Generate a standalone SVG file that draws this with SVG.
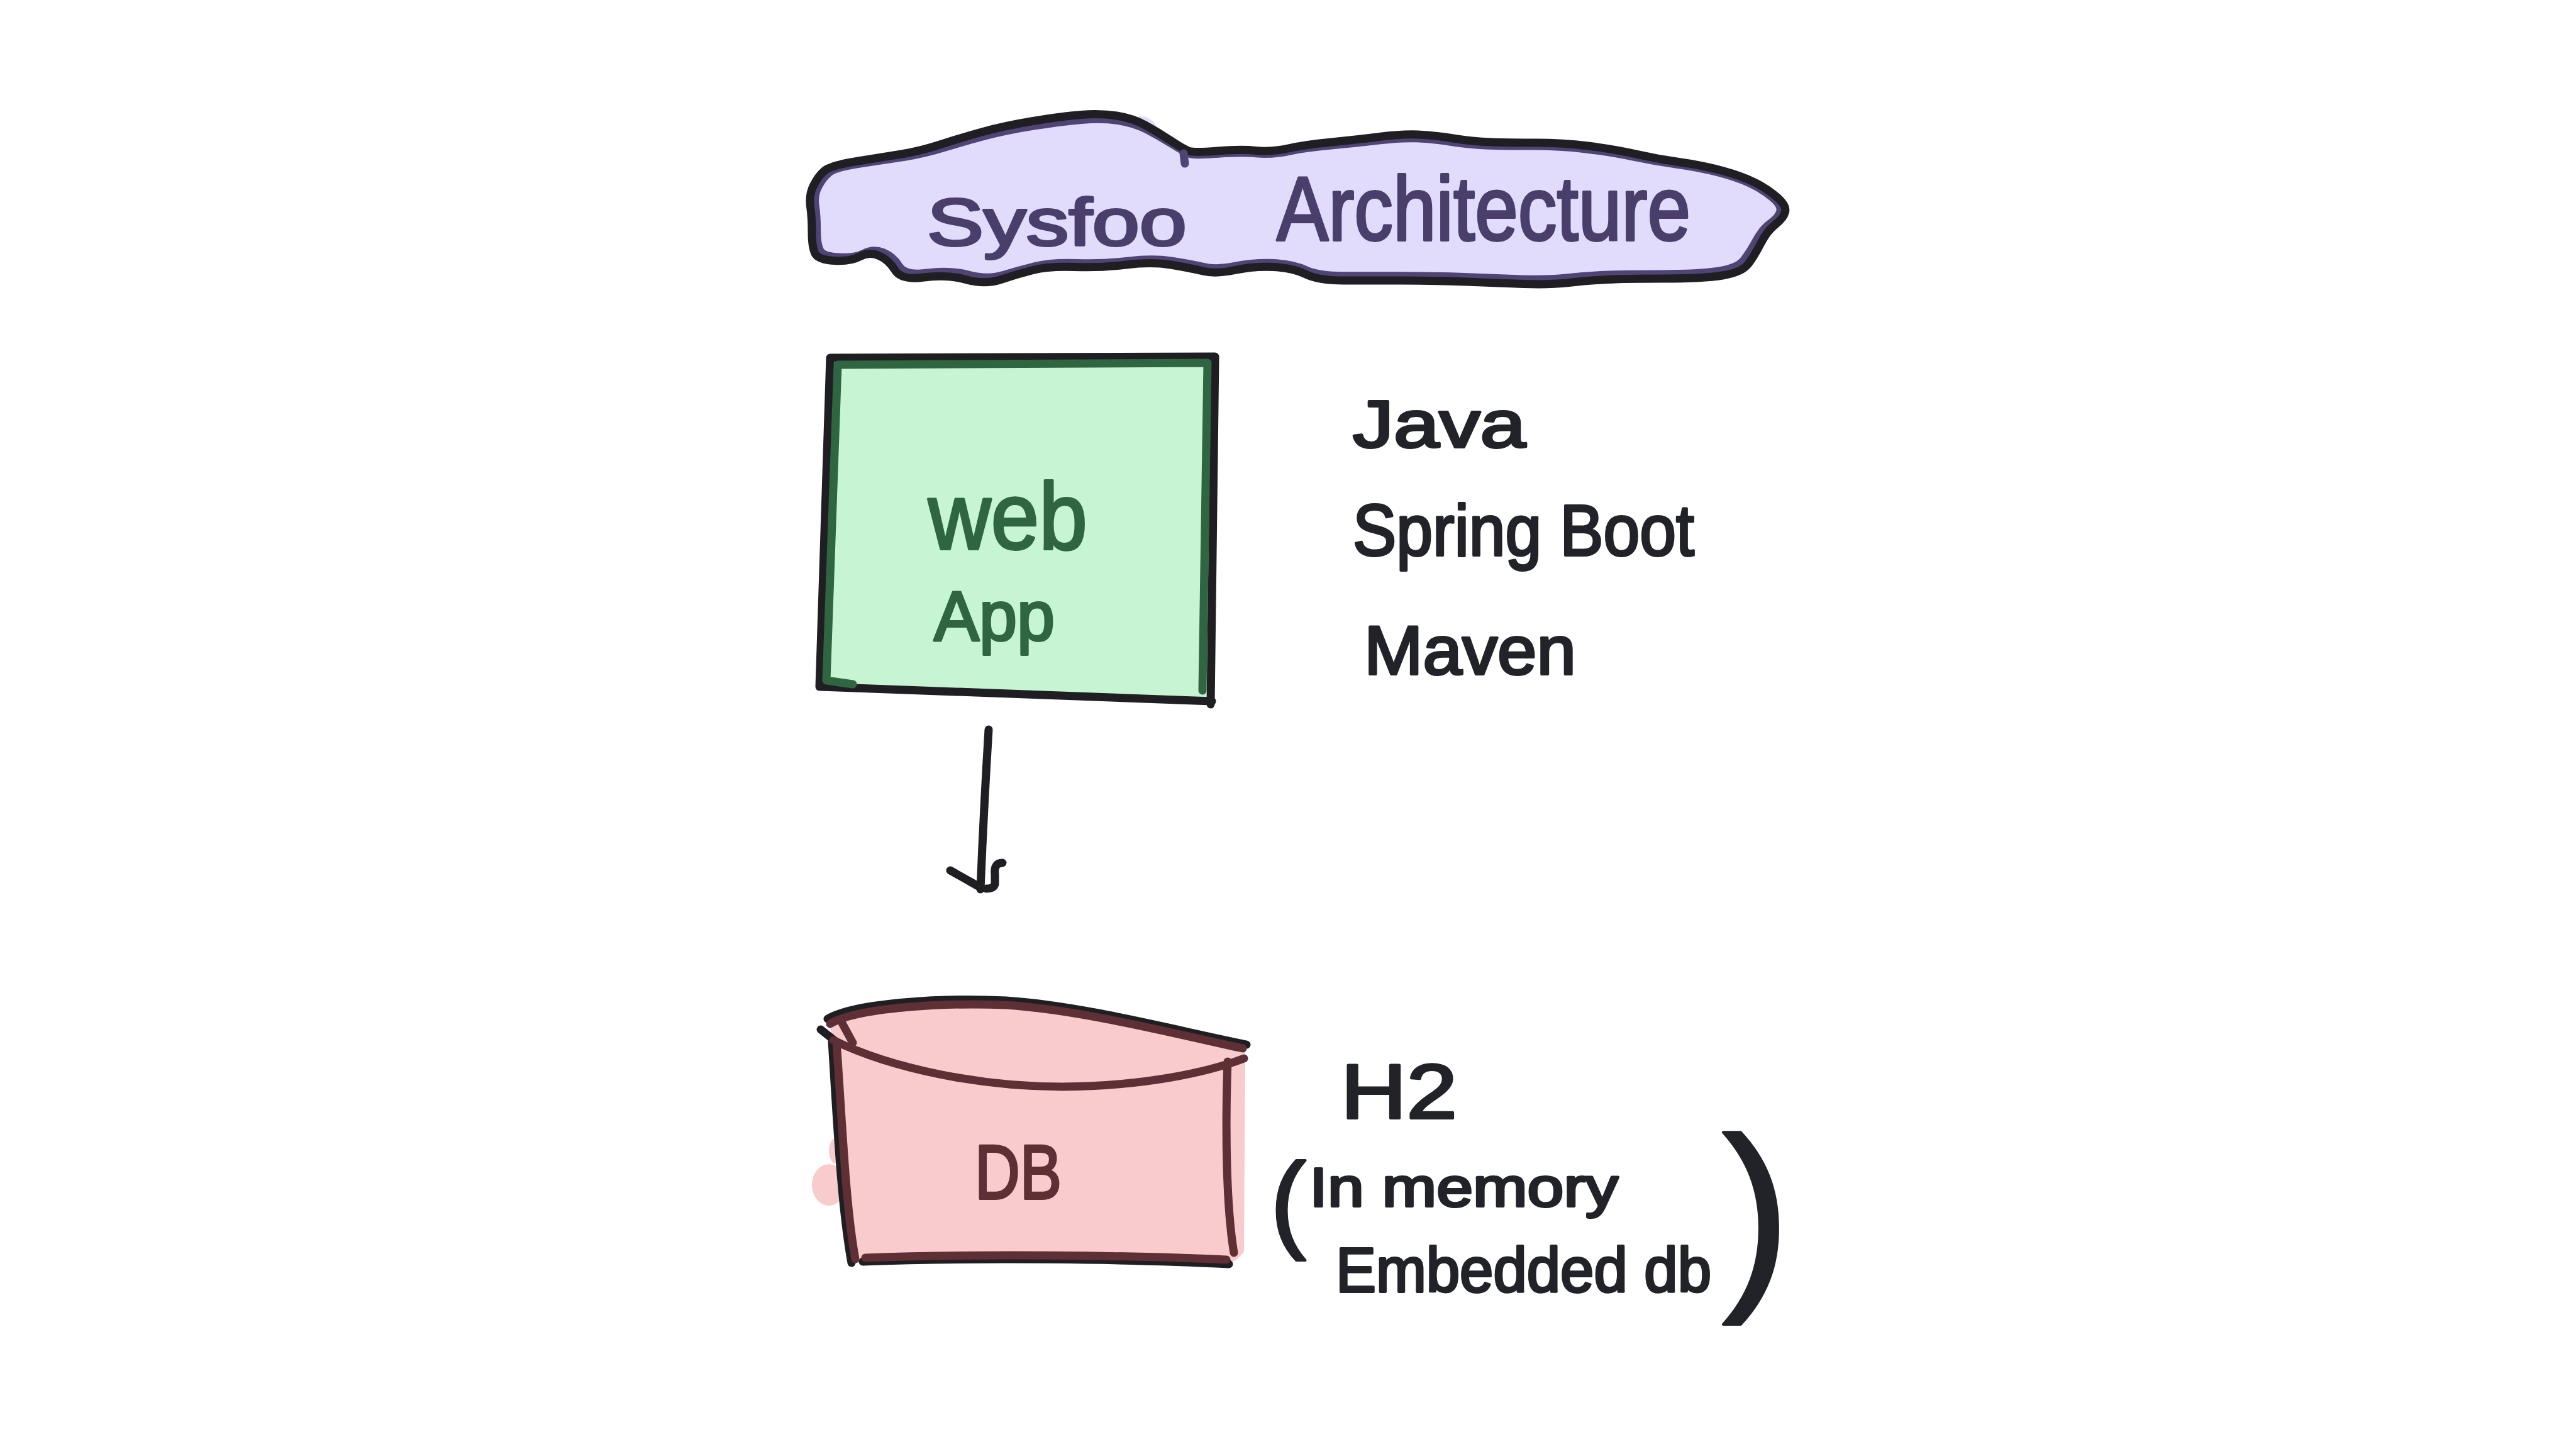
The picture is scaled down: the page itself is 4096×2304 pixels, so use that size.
<svg xmlns="http://www.w3.org/2000/svg" width="4096" height="2304" viewBox="0 0 4096 2304">
<style>
.hand{font-family:"Liberation Sans","DejaVu Sans",Arial,sans-serif;stroke-width:4;stroke-linejoin:round}
.ink{fill:#222328;stroke:#222328}
.purple{fill:#4a3f6b;stroke:#4a3f6b}
.green{fill:#2f6540;stroke:#2f6540}
.maroon{fill:#5e2f34;stroke:#5e2f34}
.ln{fill:none;stroke-width:13;stroke-linecap:round;stroke-linejoin:round}
.k{stroke:#1f1f23}
.g{stroke:#2f6540}
.m{stroke:#5e2f34}
.p{stroke:#4f4474}
</style>
<defs>
<path id="cloud" d="M1311,271.5 Q1321,263 1362,256.5 Q1403,250 1433.5,245 Q1464,240 1494.5,230 Q1525,220 1561,210 Q1597,200 1642.5,192.5 Q1688,185 1719,182.5 Q1750,180 1775.5,184 Q1801,188 1821,199 Q1841,210 1861.5,223.5 Q1882,237 1890,240 Q1898,243 1936,240 Q1974,237 1997,239.5 Q2020,242 2048,236 Q2076,230 2117,226 Q2158,222 2193.5,217.5 Q2229,213 2254.5,214 Q2280,215 2310.5,220 Q2341,225 2371.5,226 Q2402,227 2443,227 Q2484,227 2525,232 Q2566,237 2601.5,245 Q2637,253 2672.5,258 Q2708,263 2739,271.5 Q2770,280 2790,290 Q2810,300 2825.5,313.5 Q2841,327 2838.5,337 Q2836,347 2823,357 Q2810,367 2800,386.5 Q2790,406 2780,419.5 Q2770,433 2739,438 Q2708,443 2647,443 Q2586,443 2555.5,444.5 Q2525,446 2494.5,449.5 Q2464,453 2423,451.5 Q2382,450 2331,448 Q2280,446 2229,446 Q2178,446 2137,446 Q2096,446 2076,436 Q2056,426 2025,424.5 Q1994,423 1963.5,429.5 Q1933,436 1912.5,431 Q1892,426 1861.5,421 Q1831,416 1790.5,421 Q1750,426 1709,424.5 Q1668,423 1642.5,429.5 Q1617,436 1591.5,444.5 Q1566,453 1535.5,444.5 Q1505,436 1469,441 Q1433,446 1423,429.5 Q1413,413 1397.5,406.5 Q1382,400 1367,408 Q1352,416 1326.5,414.5 Q1301,413 1296,403 Q1291,393 1291,369.5 Q1291,346 1288.5,328 Q1286,310 1293.5,295 Q1301,280 1311,271.5 Z"/>
</defs>
<rect width="4096" height="2304" fill="#ffffff"/>

<g id="title">
<use href="#cloud" fill="#e1dbfc"/>
<ellipse cx="1815" cy="225" rx="30" ry="40" fill="#e1dbfc"/>
<use href="#cloud" class="ln p" stroke-width="9" transform="translate(2064 318) scale(0.99 0.94) translate(-2064 -318)"/>
<use href="#cloud" class="ln k" stroke-width="11"/>
<path class="ln p" stroke-width="7" d="M1882,244 L1884,260"/>
<text class="hand purple" x="1474" y="390" font-size="106" textLength="413" lengthAdjust="spacingAndGlyphs">Sysfoo</text>
<text class="hand purple" x="2030" y="382" font-size="145" textLength="658" lengthAdjust="spacingAndGlyphs">Architecture</text>
</g>

<g id="webapp">
<path d="M1318,572 L1930,570 L1922,1112 L1306,1090 Z" fill="#c7f5d4"/>
<path class="ln k" d="M1320,569 L1932,567 L1925,1120 M1305,1092 L1927,1115 M1320,569 L1303,1092"/>
<path class="ln g" d="M1332,580 L1920,577 L1912,1098 M1332,580 L1314,1082 L1356,1088"/>
<text class="hand green" x="1476" y="873" font-size="150" textLength="253" lengthAdjust="spacingAndGlyphs">web</text>
<text class="hand green" x="1485" y="1018" font-size="112" textLength="192" lengthAdjust="spacingAndGlyphs">App</text>
</g>

<g id="stack">
<text class="hand ink" x="2151" y="711" font-size="106" textLength="275" lengthAdjust="spacingAndGlyphs">Java</text>
<text class="hand ink" x="2151" y="883" font-size="115" textLength="543" lengthAdjust="spacingAndGlyphs">Spring Boot</text>
<text class="hand ink" x="2169" y="1072" font-size="110" textLength="337" lengthAdjust="spacingAndGlyphs">Maven</text>
</g>

<g id="db">
<path d="M1318,1628 C1420,1590 1560,1585 1640,1592 C1760,1602 1880,1640 1980,1665 L1978,1990 C1970,2000 1965,2004 1960,2006 C1760,2004 1560,2000 1362,2008 L1326,1656 Z" fill="#f8cbcd"/>
<ellipse cx="1318" cy="1884" rx="27" ry="33" fill="#f8cbcd"/>
<ellipse cx="1332" cy="1830" rx="14" ry="22" fill="#f8cbcd"/>
<path class="ln k" d="M1316,1620 C1360,1594 1500,1586 1600,1591 C1720,1599 1860,1636 1982,1661 M1305,1637 L1334,1660 M1323,1656 C1332,1800 1338,1920 1354,2008 M1372,2006 C1550,1999 1800,2002 1954,2010"/>
<path class="ln m" d="M1320,1628 C1362,1602 1500,1594 1600,1598 C1720,1606 1860,1642 1976,1667 M1338,1625 L1356,1658 M1325,1654 C1420,1700 1560,1728 1690,1728 C1820,1727 1920,1705 1978,1683 M1330,1656 C1340,1800 1345,1920 1360,2002 M1952,1688 C1948,1800 1950,1920 1962,1992 M1376,2000 C1550,1993 1800,1996 1950,2003"/>
<text class="hand maroon" x="1550" y="1906" font-size="122" textLength="138" lengthAdjust="spacingAndGlyphs">DB</text>
</g>

<g id="h2">
<text class="hand ink" x="2132" y="1778" font-size="122" textLength="185" lengthAdjust="spacingAndGlyphs">H2</text>
<text class="hand ink" x="2020" y="1969" font-size="170">(</text>
<text class="hand ink" x="2082" y="1918" font-size="88" textLength="491" lengthAdjust="spacingAndGlyphs">In memory</text>
<text class="hand ink" x="2124" y="2054" font-size="100" textLength="597" lengthAdjust="spacingAndGlyphs">Embedded db</text>
<text class="hand ink" x="2738" y="2038" font-size="328" stroke-width="0">)</text>
</g>

<g id="connectors">
<path class="ln k" stroke-width="14" d="M1572,1160 Q1564,1290 1559,1414"/>
<path class="ln k" d="M1511,1384 L1557,1410 M1594,1372 Q1580,1372 1582,1390 L1582,1406 Q1580,1413 1568,1413"/>
</g>
</svg>
